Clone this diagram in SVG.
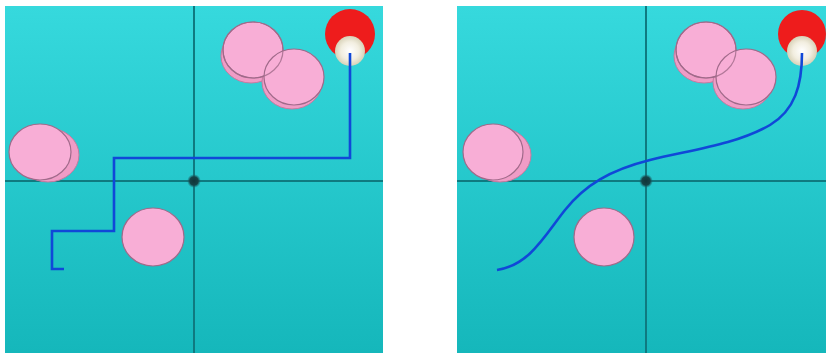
<svg xmlns="http://www.w3.org/2000/svg" width="826" height="353" viewBox="0 0 826 353">
<defs>
<linearGradient id="bg" x1="0" y1="0" x2="0" y2="1">
<stop offset="0" stop-color="#36d9dd"/>
<stop offset="1" stop-color="#15b7bb"/>
</linearGradient>
<radialGradient id="beige" cx="0.5" cy="0.5" r="0.5">
<stop offset="0" stop-color="#ffffff"/>
<stop offset="0.6" stop-color="#f2eee0"/>
<stop offset="1" stop-color="#d8d2b8"/>
</radialGradient>
<radialGradient id="dot" cx="0.5" cy="0.5" r="0.5">
<stop offset="0" stop-color="#10363a"/>
<stop offset="0.6" stop-color="#154347"/>
<stop offset="1" stop-color="#1f6a70" stop-opacity="0"/>
</radialGradient>
</defs>
<style>
.panel{fill:url(#bg)}
.axis{stroke:#0f7a80;stroke-width:2;fill:none}
.shadow{fill:#ef9cc6;stroke:#c77aa0;stroke-width:1}
.disc{fill:#f8aed6;stroke:#a06a8a;stroke-width:1.2}
.rim{fill:none;stroke:#a06a8a;stroke-width:1.2;stroke-opacity:0.8}
.red{fill:#ee1c1c}
.beige{fill:url(#beige)}
.path{stroke:#1048d8;stroke-width:2.6;fill:none;stroke-linejoin:miter}
</style>
<rect width="826" height="353" fill="#ffffff"/>
<g id="left-panel">
<rect class="panel" x="5" y="6" width="378" height="347"/>
<line class="axis" x1="194" y1="6" x2="194" y2="353"/>
<line class="axis" x1="5" y1="181" x2="383" y2="181"/>
<circle cx="194" cy="181" r="7" fill="url(#dot)"/>
</g>
<g id="left-obstacles">
<ellipse class="shadow" cx="251" cy="56" rx="30" ry="27"/>
<ellipse class="shadow" cx="292" cy="82" rx="30" ry="27"/>
<ellipse class="disc" cx="253" cy="50" rx="30" ry="28"/>
<ellipse class="disc" cx="294" cy="77" rx="30" ry="28"/>
<ellipse class="rim" cx="253" cy="50" rx="30" ry="28"/>
<ellipse class="shadow" cx="48" cy="155" rx="31" ry="27"/>
<ellipse class="disc" cx="40" cy="152" rx="31" ry="28"/>
<ellipse class="disc" cx="153" cy="237" rx="31" ry="29"/>
</g>
<g id="left-robot">
<circle class="red" cx="350" cy="34" r="25"/>
<circle class="beige" cx="350" cy="51" r="15"/>
</g>
<g id="right-panel">
<rect class="panel" x="457" y="6" width="369" height="347"/>
<line class="axis" x1="646" y1="6" x2="646" y2="353"/>
<line class="axis" x1="457" y1="181" x2="826" y2="181"/>
<circle cx="646" cy="181" r="7" fill="url(#dot)"/>
</g>
<g id="right-obstacles">
<ellipse class="shadow" cx="704" cy="56" rx="30" ry="27"/>
<ellipse class="shadow" cx="743" cy="82" rx="30" ry="27"/>
<ellipse class="disc" cx="706" cy="50" rx="30" ry="28"/>
<ellipse class="disc" cx="746" cy="77" rx="30" ry="28"/>
<ellipse class="rim" cx="706" cy="50" rx="30" ry="28"/>
<ellipse class="shadow" cx="500" cy="155" rx="31" ry="27"/>
<ellipse class="disc" cx="493" cy="152" rx="30" ry="28"/>
<ellipse class="disc" cx="604" cy="237" rx="30" ry="29"/>
</g>
<g id="right-robot">
<circle class="red" cx="802" cy="34" r="24"/>
<circle class="beige" cx="802" cy="51" r="15"/>
</g>
<g id="connectors">
<polyline class="path" points="350,53 350,158 114,158 114,231 52,231 52,269 64,269"/>
<path class="path" d="M802,53 C802,85 795,110 770,125 C735,145 690,150 650,160 C610,170 585,185 565,210 C545,235 530,265 497,270"/>
</g>
</svg>
